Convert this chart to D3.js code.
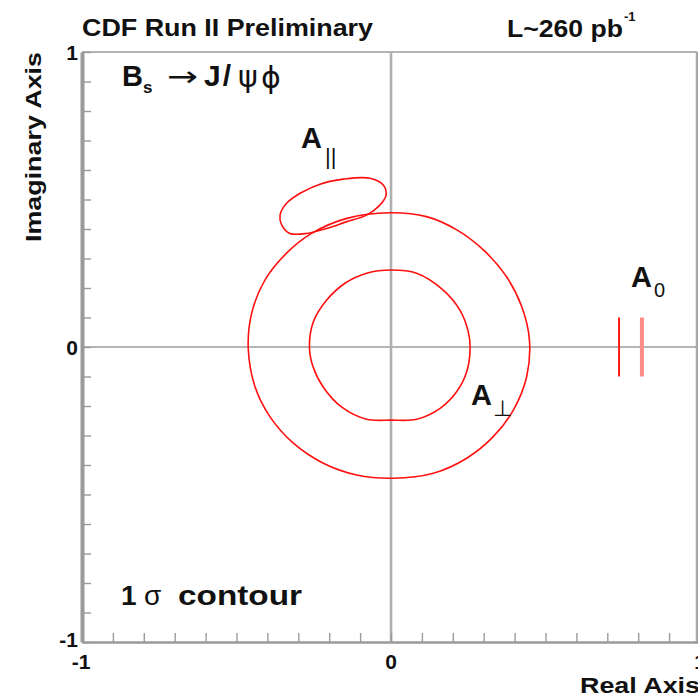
<!DOCTYPE html>
<html>
<head>
<meta charset="utf-8">
<script src="https://cdn.jsdelivr.net/npm/d3@7"></script>
<style>
  html, body { margin: 0; padding: 0; background: #fff; }
  svg { display: block; }
  text { font-family: "Liberation Sans", Arial, Helvetica, sans-serif; fill: #111; }
</style>
</head>
<body>
<svg id="chart" width="698" height="699"></svg>
<script>
// Amplitude contours in the complex plane (Re, Im)
const axisLabelValues = [-1, 0, 1];

// A_perp : inner and outer 1-sigma boundaries
const perpInner = [
  [0.002, 0.261], [0.083, 0.250], [0.169, 0.193], [0.223, 0.125], [0.250, 0.052],
  [0.256, -0.004], [0.245, -0.084], [0.213, -0.151], [0.159, -0.208], [0.083, -0.245],
  [0.002, -0.248], [-0.079, -0.245], [-0.158, -0.205], [-0.218, -0.138], [-0.252, -0.068],
  [-0.264, 0.001], [-0.251, 0.086], [-0.208, 0.159], [-0.149, 0.216], [-0.079, 0.250]
];
const perpOuter = [
  [-0.003, 0.455], [0.115, 0.442], [0.213, 0.397], [0.299, 0.329], [0.374, 0.238],
  [0.423, 0.137], [0.448, 0.024], [0.439, -0.101], [0.396, -0.214], [0.331, -0.304],
  [0.245, -0.377], [0.137, -0.428], [0.007, -0.445], [-0.111, -0.434], [-0.219, -0.394],
  [-0.316, -0.326], [-0.392, -0.236], [-0.440, -0.135], [-0.462, -0.004], [-0.451, 0.114],
  [-0.408, 0.227], [-0.338, 0.318], [-0.257, 0.385], [-0.143, 0.436]
];
// A_parallel contour
const paraContour = [
  [-0.154, 0.569], [-0.068, 0.572], [-0.025, 0.549], [-0.016, 0.515], [-0.036, 0.481],
  [-0.079, 0.447], [-0.143, 0.425], [-0.208, 0.402], [-0.273, 0.385], [-0.327, 0.385],
  [-0.354, 0.414], [-0.359, 0.447], [-0.338, 0.487], [-0.294, 0.521], [-0.230, 0.552]
];
// A_0 : two narrow intervals on the real axis
const zeroSegments = [
  [[0.738, -0.10], [0.738, 0.10]],
  [[0.812, -0.10], [0.812, 0.10]]
];

const svg = d3.select("#chart");
const x = d3.scaleLinear().domain([-1, 1]).range([82, 700]);
const y = d3.scaleLinear().domain([-1, 1]).range([642, 52]);

const gray = "#9a9a9a";

// frame (top and right)
svg.append("line").attr("x1", x(-1)).attr("x2", 697).attr("y1", y(1)).attr("y2", y(1))
  .attr("stroke", "#b4b4b4").attr("stroke-width", 2);
svg.append("line").attr("x1", 697).attr("x2", 697).attr("y1", y(1)).attr("y2", y(-1))
  .attr("stroke", "#a8a8a8").attr("stroke-width", 2.5);

// zero lines
svg.append("line").attr("x1", x(-1)).attr("x2", 697).attr("y1", y(0)).attr("y2", y(0))
  .attr("stroke", "#9c9c9c").attr("stroke-width", 1.3);
svg.append("line").attr("x1", x(0)).attr("x2", x(0)).attr("y1", y(1)).attr("y2", y(-1))
  .attr("stroke", "#b0b0b0").attr("stroke-width", 2.6);

// axes with inward ticks
const xAxis = d3.axisBottom(x).ticks(20).tickSizeInner(-9).tickSizeOuter(0).tickFormat("");
const yAxis = d3.axisLeft(y).ticks(20).tickSizeInner(-9).tickSizeOuter(0).tickFormat("");

const gx = svg.append("g").attr("transform", `translate(0,${y(-1)})`).call(xAxis);
gx.select(".domain").attr("stroke", gray).attr("stroke-width", 2.5);
gx.selectAll(".tick line").attr("stroke", gray).attr("stroke-width", 1.4);

const gy = svg.append("g").attr("transform", `translate(${x(-1)},0)`).call(yAxis);
gy.select(".domain").attr("stroke", gray).attr("stroke-width", 4);
gy.selectAll(".tick line").attr("stroke", gray).attr("stroke-width", 1.4);

// tick labels
svg.selectAll(".xlab").data(axisLabelValues).enter().append("text")
  .attr("class", "xlab")
  .attr("x", d => x(d) + (d < 0 ? -1 : 0)).attr("y", 669)
  .attr("text-anchor", "middle")
  .style("font-size", "21px").style("font-weight", "bold")
  .text(d => String(d));
svg.selectAll(".ylab").data(axisLabelValues).enter().append("text")
  .attr("class", "ylab")
  .attr("x", 78).attr("y", d => y(d) + (d < 0 ? 5 : 8))
  .attr("text-anchor", "end")
  .style("font-size", "21px").style("font-weight", "bold")
  .text(d => String(d));

// contours
const line = d3.line().x(d => x(d[0])).y(d => y(d[1])).curve(d3.curveCatmullRomClosed.alpha(0.5));
const red = "#ff1010";
[perpOuter, perpInner, paraContour].forEach(c => {
  svg.append("path").attr("d", line(c)).attr("fill", "none")
    .attr("stroke", red).attr("stroke-width", 1.6);
});
const seg = d3.line().x(d => x(d[0])).y(d => y(d[1]));
svg.append("path").attr("d", seg(zeroSegments[0])).attr("fill", "none")
  .attr("stroke", "#ff1a1a").attr("stroke-width", 2);
svg.append("path").attr("d", seg(zeroSegments[1])).attr("fill", "none")
  .attr("stroke", "#ff8a8a").attr("stroke-width", 4);

// titles
svg.append("text").attr("x", 82).attr("y", 36)
  .attr("textLength", 291).attr("lengthAdjust", "spacingAndGlyphs")
  .style("font-size", "24px").style("font-weight", "bold")
  .text("CDF Run II Preliminary");
svg.append("text").attr("x", 507).attr("y", 37)
  .attr("textLength", 116).attr("lengthAdjust", "spacingAndGlyphs")
  .style("font-size", "24px").style("font-weight", "bold")
  .text("L~260 pb");
svg.append("text").attr("x", 624).attr("y", 21)
  .style("font-size", "13px").style("font-weight", "bold")
  .text("-1");

// axis titles
svg.append("text").attr("x", 580).attr("y", 693)
  .attr("textLength", 120).attr("lengthAdjust", "spacingAndGlyphs")
  .style("font-size", "22px").style("font-weight", "bold")
  .text("Real Axis");
svg.append("text").attr("transform", "translate(41,147) rotate(-90)")
  .attr("text-anchor", "middle")
  .attr("textLength", 190).attr("lengthAdjust", "spacingAndGlyphs")
  .style("font-size", "22px").style("font-weight", "bold")
  .text("Imaginary Axis");

// decay label: B_s -> J/psi phi
const dl = svg.append("text").attr("x", 122).attr("y", 86)
  .style("font-size", "29px").style("font-weight", "bold");
dl.append("tspan").text("B");
dl.append("tspan").attr("dy", 7).style("font-size", "17px").text("s");
svg.append("text").attr("x", 167).attr("y", 86)
  .attr("textLength", 31).attr("lengthAdjust", "spacingAndGlyphs")
  .style("font-size", "28px").style("font-family", "DejaVu Sans")
  .text("\u2192");
const jl = svg.append("text").attr("x", 204).attr("y", 86)
  .style("font-size", "30px").style("font-weight", "bold");
jl.append("tspan").text("J");
jl.append("tspan").attr("dx", 2).text("/");
svg.append("text").attr("x", 238).attr("y", 87)
  .style("font-size", "30px").style("font-family", "DejaVu Sans")
  .text("\u03c8");
svg.append("text").attr("x", 261).attr("y", 88)
  .style("font-size", "30px").style("font-family", "DejaVu Sans")
  .text("\u03d5");

// contour level label
const cl = svg.append("text").attr("x", 121).attr("y", 605)
  .style("font-size", "28px").style("font-weight", "bold");
cl.append("tspan").text("1");
svg.append("text").attr("x", 144).attr("y", 605)
  .style("font-size", "28px")
  .text("\u03c3");
svg.append("text").attr("x", 178).attr("y", 605)
  .attr("textLength", 124).attr("lengthAdjust", "spacingAndGlyphs")
  .style("font-size", "28px").style("font-weight", "bold")
  .text("contour");

// amplitude labels
function ampLabel(px, py, sub, subDx, subDy, subSize) {
  const t = svg.append("text").attr("x", px).attr("y", py)
    .style("font-size", "29px").style("font-weight", "bold");
  t.append("tspan").text("A");
  t.append("tspan").attr("dx", subDx).attr("dy", subDy)
    .style("font-size", subSize + "px").style("font-weight", "normal").text(sub);
}
ampLabel(301, 148, "||", 3, 16, 22);
ampLabel(631, 287, "0", 2, 10, 20);
ampLabel(471, 405, "\u22a5", 1, 11, 22);
</script>
</body>
</html>
